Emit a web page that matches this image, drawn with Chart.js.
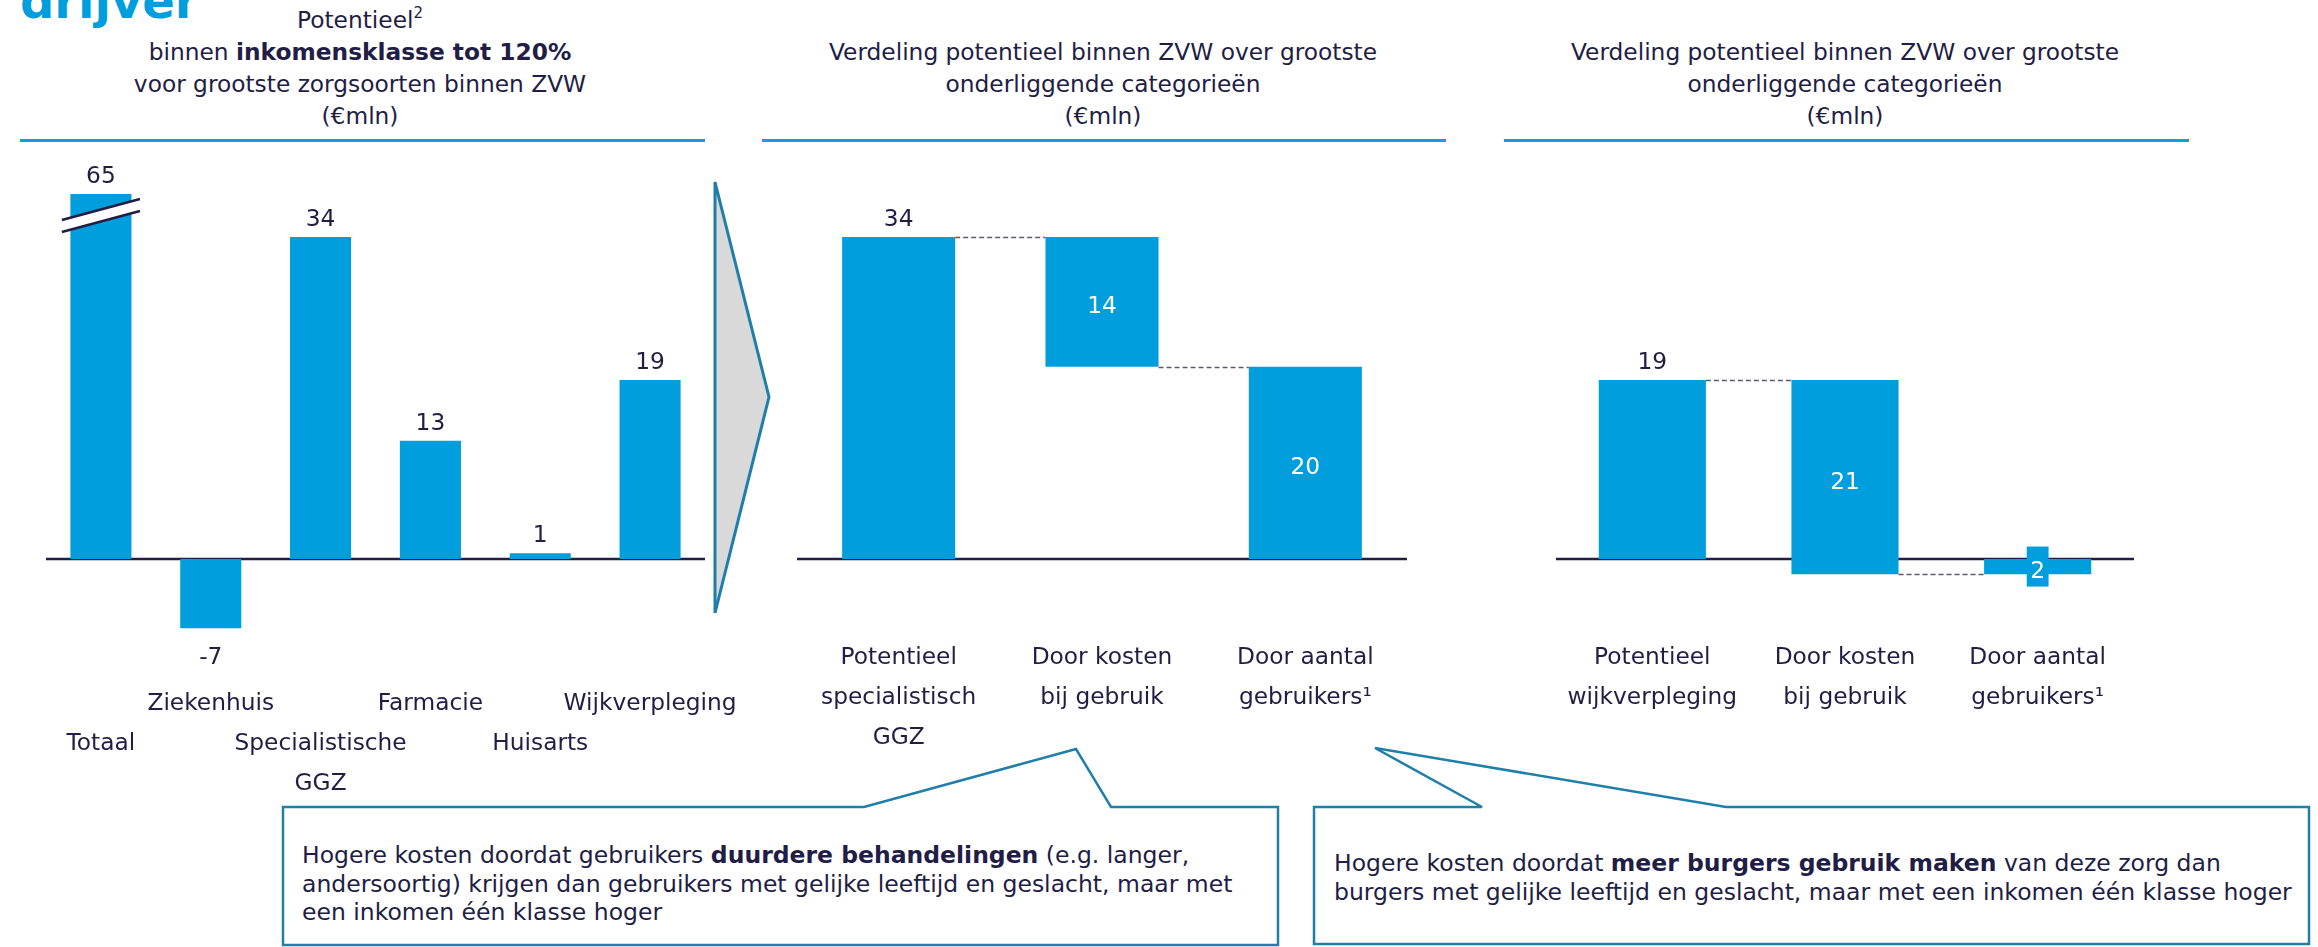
<!DOCTYPE html>
<html lang="nl">
<head>
<meta charset="utf-8">
<title>Potentieel binnen ZVW</title>
<script src="https://cdn.jsdelivr.net/npm/chart.js@4.4.1/dist/chart.umd.min.js"></script>
<style>
  html, body { margin: 0; padding: 0; background: #fff; }
  body {
    width: 2318px; height: 947px; position: relative; overflow: hidden;
    font-family: 'DejaVu Sans', Verdana, sans-serif; color: #221d44;
  }
  .logo {
    position: absolute; left: 20px; top: -23px; font-size: 48px; line-height: 48px;
    font-weight: bold; color: #009edc; white-space: nowrap;
  }
  .title {
    position: absolute; font-size: 23.3px; line-height: 32px; text-align: center;
    white-space: nowrap; transform: translateX(-50%);
  }
  .sup { font-size: 15px; position: relative; top: -10px; line-height: 0; }
  .rule { position: absolute; top: 139px; height: 3px; background: #0ea0dc; }
  .note { position: absolute; font-size: 23.5px; line-height: 28.5px; white-space: nowrap; }
  canvas { position: absolute; top: 150px; }
  svg { position: absolute; left: 0; top: 0; }
</style>
</head>
<body>
<div class="logo">drijver</div>

<div class="title" style="left:360px; top:4px;">Potentieel<span class="sup">2</span><br>binnen <b>inkomensklasse tot 120%</b><br>voor grootste zorgsoorten binnen ZVW<br>(€mln)</div>
<div class="title" style="left:1103px; top:36px;">Verdeling potentieel binnen ZVW over grootste<br>onderliggende categorieën<br>(€mln)</div>
<div class="title" style="left:1845px; top:36px;">Verdeling potentieel binnen ZVW over grootste<br>onderliggende categorieën<br>(€mln)</div>

<div class="rule" style="left:20px; width:685px;"></div>
<div class="rule" style="left:762px; width:684px;"></div>
<div class="rule" style="left:1504px; width:685px;"></div>

<svg width="2318" height="947">
  <polygon points="715,182 769,397 715,613" fill="#d9d9d9" stroke="#1f7fa8" stroke-width="3" stroke-linejoin="miter"/>
  <polygon points="283,807 864,807 1076,749 1111,807 1278,807 1278,945 283,945" fill="#fff" stroke="#1f7fa8" stroke-width="2.5"/>
  <polygon points="1314,807 1482,807 1375,748 1726,807 2309,807 2309,944 1314,944" fill="#fff" stroke="#1f7fa8" stroke-width="2.5"/>
</svg>

<canvas id="zorgChart"></canvas>
<canvas id="ggzChart"></canvas>
<canvas id="wijkChart"></canvas>

<div class="note" style="left:302px; top:841px;">Hogere kosten doordat gebruikers <b>duurdere behandelingen</b> (e.g. langer,<br>andersoortig) krijgen dan gebruikers met gelijke leeftijd en geslacht, maar met<br>een inkomen één klasse hoger</div>
<div class="note" style="left:1334px; top:849px;">Hogere kosten doordat <b>meer burgers gebruik maken</b> van deze zorg dan<br>burgers met gelijke leeftijd en geslacht, maar met een inkomen één klasse hoger</div>

<script>
// Potentieel per zorgsoort (€mln)
const zorgCategories = [['', 'Totaal'], ['Ziekenhuis'], ['', 'Specialistische', 'GGZ'], ['Farmacie'], ['', 'Huisarts'], ['Wijkverpleging']];
const zorgValues = [65, -7.3, 34, 12.5, 0.6, 18.9];
const zorgLabels = ['65', '-7', '34', '13', '1', '19'];

// Verdeling specialistische GGZ
const ggzCategories = [['Potentieel', 'specialistisch', 'GGZ'], ['Door kosten', 'bij gebruik'], ['Door aantal', 'gebruikers¹']];
const ggzTotal = 34;
const ggzSteps = [13.7, 20.3];
const ggzLabels = ['34', '14', '20'];

// Verdeling wijkverpleging
const wijkCategories = [['Potentieel', 'wijkverpleging'], ['Door kosten', 'bij gebruik'], ['Door aantal', 'gebruikers¹']];
const wijkTotal = 18.9;
const wijkSteps = [20.5, -1.6];
const wijkLabels = ['19', '21', '2'];

const BAR_BLUE = '#009edc';
const INK = '#221d44';
const FONT_SIZE = 23.3;
const CANVAS_TOP = 150;
const CANVAS_BOTTOM = 810;
const ZERO_Y = 559;
const PX_PER_UNIT = 9.47;
const SIDE = 80;

Chart.defaults.font.family = "'DejaVu Sans', Verdana, sans-serif";

// waterfall: first bar is the total, each step hangs from the running level
function waterfall(total, steps) {
  const ranges = [[0, total]];
  const levels = [total];
  let running = total;
  steps.forEach((step) => {
    ranges.push([running - step, running]);
    running -= step;
    levels.push(running);
  });
  return { ranges, levels: levels.slice(0, steps.length) };
}

const panelMarks = {
  id: 'panelMarks',
  beforeDatasetsDraw(chart) {
    const { ctx, chartArea } = chart;
    const zero = chart.scales.y.getPixelForValue(0);
    ctx.save();
    ctx.strokeStyle = INK;
    ctx.lineWidth = 2.5;
    ctx.beginPath();
    ctx.moveTo(chartArea.left, zero);
    ctx.lineTo(chartArea.right, zero);
    ctx.stroke();
    ctx.restore();
  },
  afterDatasetsDraw(chart, args, opts) {
    const { ctx, chartArea } = chart;
    const y = chart.scales.y;
    const bars = chart.getDatasetMeta(0).data;
    const data = chart.data.datasets[0].data;
    ctx.save();

    // dashed connectors between waterfall bars
    ctx.setLineDash([5, 3]);
    ctx.strokeStyle = '#5b5870';
    ctx.lineWidth = 1.5;
    (opts.levels || []).forEach((level, i) => {
      const a = bars[i];
      const b = bars[i + 1];
      const yy = Math.round(y.getPixelForValue(level)) + 0.5;
      ctx.beginPath();
      ctx.moveTo(a.x + a.width / 2, yy);
      ctx.lineTo(b.x - b.width / 2, yy);
      ctx.stroke();
    });
    ctx.setLineDash([]);

    // axis break on the clipped bar
    if (opts.breakIndex != null) {
      const bar = bars[opts.breakIndex];
      const cx = bar.x;
      const cy = chartArea.top + 21.5;
      const half = bar.width / 2 + 8.5;
      const rise = 10.5;
      const gap = 6;
      ctx.fillStyle = '#fff';
      ctx.beginPath();
      ctx.moveTo(cx - half, cy - gap + rise);
      ctx.lineTo(cx + half, cy - gap - rise);
      ctx.lineTo(cx + half, cy + gap - rise);
      ctx.lineTo(cx - half, cy + gap + rise);
      ctx.closePath();
      ctx.fill();
      ctx.strokeStyle = INK;
      ctx.lineWidth = 2.5;
      [-gap, gap].forEach((off) => {
        ctx.beginPath();
        ctx.moveTo(cx - half, cy + off + rise);
        ctx.lineTo(cx + half, cy + off - rise);
        ctx.stroke();
      });
    }

    // value labels
    ctx.font = FONT_SIZE + "px 'DejaVu Sans', Verdana, sans-serif";
    ctx.textAlign = 'center';
    ctx.textBaseline = 'alphabetic';
    bars.forEach((bar, i) => {
      const text = opts.labels[i];
      const top = Math.max(Math.min(bar.y, bar.base), chartArea.top);
      const bottom = Math.max(bar.y, bar.base);
      if (i >= opts.insideFrom) {
        const mid = (top + bottom) / 2;
        const w = ctx.measureText(text).width + 7;
        ctx.fillStyle = BAR_BLUE;
        ctx.fillRect(bar.x - w / 2, mid - 20, w, 40);
        ctx.fillStyle = '#fff';
        ctx.fillText(text, bar.x, mid + 11.5);
      } else {
        const raw = data[i];
        const value = Array.isArray(raw) ? raw[1] - raw[0] : raw;
        ctx.fillStyle = INK;
        ctx.fillText(text, bar.x, value < 0 ? bottom + 36 : top - 11);
      }
    });
    ctx.restore();
  }
};

function makePanel(canvasId, categories, values, marks, frame) {
  const canvas = document.getElementById(canvasId);
  canvas.width = frame.width + SIDE * 2;
  canvas.height = CANVAS_BOTTOM - CANVAS_TOP;
  canvas.style.left = (frame.left - SIDE) + 'px';

  return new Chart(canvas, {
    type: 'bar',
    data: {
      labels: categories,
      datasets: [{
        data: values,
        backgroundColor: BAR_BLUE,
        borderWidth: 0,
        barPercentage: 1,
        categoryPercentage: 0.556
      }]
    },
    options: {
      responsive: false,
      animation: false,
      layout: {
        padding: { top: frame.areaTop - CANVAS_TOP, left: SIDE, right: SIDE, bottom: 0 }
      },
      scales: {
        x: {
          grid: { display: false, drawTicks: false },
          border: { display: false },
          ticks: {
            color: INK,
            font: { size: FONT_SIZE, lineHeight: '40px' },
            padding: frame.tickPad,
            autoSkip: false,
            maxRotation: 0,
            minRotation: 0
          },
          afterFit(scale) {
            scale.height = CANVAS_BOTTOM - frame.areaBottom;
          }
        },
        y: {
          display: false,
          min: -(frame.areaBottom - ZERO_Y) / PX_PER_UNIT,
          max: (ZERO_Y - frame.areaTop) / PX_PER_UNIT
        }
      },
      plugins: {
        legend: { display: false },
        tooltip: { enabled: false },
        panelMarks: marks
      }
    },
    plugins: [panelMarks]
  });
}

const ggz = waterfall(ggzTotal, ggzSteps);
const wijk = waterfall(wijkTotal, wijkSteps);

makePanel('zorgChart', zorgCategories, zorgValues,
  { labels: zorgLabels, insideFrom: Infinity, breakIndex: 0 },
  { left: 46, width: 659, areaTop: 194, areaBottom: 664, tickPad: 20 });

makePanel('ggzChart', ggzCategories, ggz.ranges,
  { labels: ggzLabels, insideFrom: 1, levels: ggz.levels },
  { left: 797, width: 610, areaTop: 194, areaBottom: 616, tickPad: 22 });

makePanel('wijkChart', wijkCategories, wijk.ranges,
  { labels: wijkLabels, insideFrom: 1, levels: wijk.levels },
  { left: 1556, width: 578, areaTop: 194, areaBottom: 616, tickPad: 22 });
</script>
</body>
</html>
